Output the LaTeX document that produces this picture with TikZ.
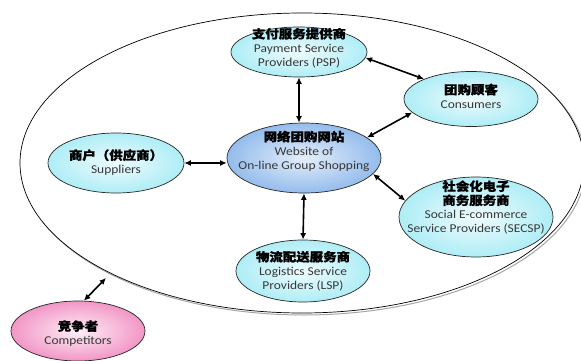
\documentclass[tikz,border=0pt]{standalone}
\usepackage{fontspec}
\setmainfont{Carlito}[FakeStretch=1.12]
\newfontfamily\cjk{Noto Sans CJK SC}[FakeStretch=1.12,BoldFeatures={FakeBold=1.2}]
\usetikzlibrary{shapes.geometric,arrows.meta}
\definecolor{cyanedge}{HTML}{AEEDF6}
\definecolor{blueedge}{HTML}{94BCEC}
\definecolor{pinkedge}{HTML}{F296C6}
\tikzset{
  bub/.style={ellipse, draw=black!85, line width=0.7pt, inner sep=0pt},
  cyanbub/.style={bub, inner color=cyanedge!20, outer color=cyanedge},
  bluebub/.style={bub, inner color=blueedge!25, outer color=blueedge},
  pinkbub/.style={bub, inner color=pinkedge!15, outer color=pinkedge},
  txt/.style={align=center, font=\fontsize{12}{14}\selectfont, text=black!78, inner sep=0pt},
  biarrow/.style={{Latex[length=6.5pt,width=6pt]}-{Latex[length=6.5pt,width=6pt]}, line width=1.6pt},
}
\newcommand\zh[1]{{\cjk\bfseries\color{black}#1}}
\begin{document}
\begin{tikzpicture}[x=1pt,y=-1pt]
\useasboundingbox (0,0) rectangle (581,361);
% outer ecosystem ellipse with shadow
\node[ellipse, draw=black!35, line width=1pt, minimum width=564pt, minimum height=300pt] (bigshadow) at (304,165) {};
\node[ellipse, draw=black, fill=white, line width=0.7pt, minimum width=564pt, minimum height=300pt] (big) at (302,163) {};
% bubbles
\node[bluebub, minimum width=154pt, minimum height=70pt] (web) at (304,158) {};
\node[cyanbub, minimum width=136pt, minimum height=50pt] (psp) at (299,52) {};
\node[cyanbub, minimum width=134pt, minimum height=55pt] (con) at (471,99) {};
\node[cyanbub, minimum width=136pt, minimum height=60pt] (sup) at (116,163) {};
\node[cyanbub, minimum width=154pt, minimum height=80pt] (sec) at (476,217) {};
\node[cyanbub, minimum width=134pt, minimum height=62pt] (lsp) at (303,271) {};
\node[pinkbub, minimum width=134pt, minimum height=60pt] (comp) at (78,331) {};
% texts
\node[txt] (webtxt) at (304,151) {\zh{网络团购网站}\\Website of\\On-line Group Shopping};
\node[txt] (psptxt) at (299,48) {\zh{支付服务提供商}\\Payment Service\\Providers (PSP)};
\node[txt] (contxt) at (471,96) {\zh{团购顾客}\\Consumers};
\node[txt] (suptxt) at (116,162.5) {\zh{商户（供应商）}\\Suppliers};
\node[txt] (sectxt) at (476,207.5) {\zh{社会化电子}\\\zh{商务服务商}\\Social E-commerce\\Service Providers (SECSP)};
\node[txt] (lsptxt) at (303,271) {\zh{物流配送服务商}\\Logistics Service\\Providers (LSP)};
\node[txt] (comptxt) at (78,333.5) {\zh{竞争者}\\Competitors};
% connectors
\coordinate (bigpt) at (106,278);
\draw[biarrow] (psp.south) -- (psp.south |- web.north);
\draw[biarrow] (web.south) -- (lsp.north);
\draw[biarrow] (sup.east) -- (sup.east -| web.west);
\draw[biarrow] (psp.-5) -- (con.157);
\draw[biarrow] (con.193) -- (web.18);
\draw[biarrow] (web.-13) -- (sec.167);
\draw[biarrow] (comp.79) -- (bigpt);
\end{tikzpicture}
\end{document}
